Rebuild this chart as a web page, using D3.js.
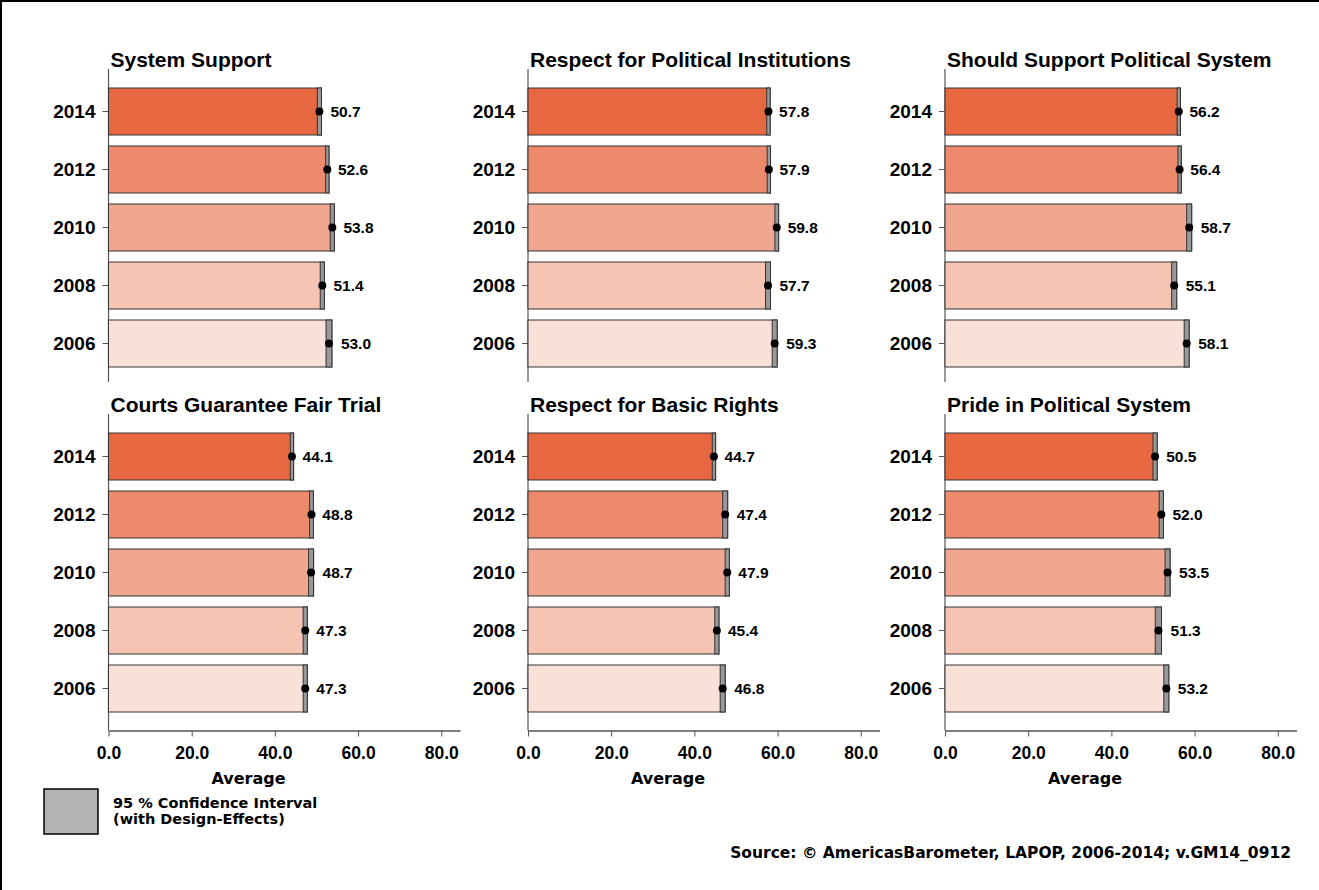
<!DOCTYPE html>
<html>
<head>
<meta charset="utf-8">
<script src="https://cdn.jsdelivr.net/npm/d3@7"></script>
<style>
  html, body { margin: 0; padding: 0; background: #fff; }
  svg { display: block; font-family: "Liberation Sans", Arial, sans-serif; }
</style>
</head>
<body>
<svg id="chart" width="1319" height="890"></svg>
<script>
const years = ["2014", "2012", "2010", "2008", "2006"];
const titles = [
  "System Support", "Respect for Political Institutions", "Should Support Political System",
  "Courts Guarantee Fair Trial", "Respect for Basic Rights", "Pride in Political System"
];
const means = [
  [50.7, 52.6, 53.8, 51.4, 53.0],
  [57.8, 57.9, 59.8, 57.7, 59.3],
  [56.2, 56.4, 58.7, 55.1, 58.1],
  [44.1, 48.8, 48.7, 47.3, 47.3],
  [44.7, 47.4, 47.9, 45.4, 46.8],
  [50.5, 52.0, 53.5, 51.3, 53.2]
];
const ciHalf = [
  [0.5, 0.4, 0.5, 0.5, 0.7],
  [0.4, 0.4, 0.45, 0.6, 0.6],
  [0.4, 0.4, 0.6, 0.6, 0.6],
  [0.4, 0.45, 0.6, 0.5, 0.5],
  [0.4, 0.6, 0.5, 0.5, 0.6],
  [0.5, 0.5, 0.6, 0.75, 0.6]
];
const xTicks = [0, 20, 40, 60, 80];
const yearColors = ["#E66740", "#ED8A6C", "#F1A78F", "#F6C4B3", "#FAE1D8"];
const legendLines = ["95 % Confidence Interval", "(with Design-Effects)"];
const sourceText = "Source: \u00A9 AmericasBarometer, LAPOP, 2006-2014; v.GM14_0912";
const xAxisLabel = "Average";

const wideFont = "DejaVu Sans, Verdana, sans-serif";
const svg = d3.select("#chart");

// outer frame (top and left)
svg.append("line").attr("x1", 1).attr("y1", 0).attr("x2", 1).attr("y2", 890).attr("stroke", "#000").attr("stroke-width", 2);
svg.append("line").attr("x1", 0).attr("y1", 1).attr("x2", 1319).attr("y2", 1).attr("stroke", "#000").attr("stroke-width", 2);

const colX = [108.5, 528, 945];
const rowDefs = [
  { titleY: 67, bandTop: 82.5, axisTop: 69, axisBottom: 382 },
  { titleY: 412, bandTop: 427.5, axisTop: 414, axisBottom: 730.5 }
];

const colorScale = d3.scaleOrdinal().domain(years).range(yearColors);

titles.forEach((title, i) => {
  const col = i % 3, row = Math.floor(i / 3);
  const x0 = colX[col];
  const rd = rowDefs[row];
  const g = svg.append("g");

  const x = d3.scaleLinear().domain([0, 84.5]).range([x0, x0 + 351.5]);
  const y = d3.scaleBand().domain(years)
    .range([rd.bandTop, rd.bandTop + 5 * 58])
    .paddingInner(0.19).paddingOuter(0.095);

  // title
  g.append("text").attr("x", x0 + 2).attr("y", rd.titleY)
    .attr("font-size", 21).attr("font-weight", "bold").attr("fill", "#000")
    .text(title);

  // y axis line
  g.append("line").attr("x1", x0).attr("x2", x0)
    .attr("y1", rd.axisTop).attr("y2", rd.axisBottom)
    .attr("stroke", "#555").attr("stroke-width", 1.2);

  // y ticks and labels
  const yAxis = d3.axisLeft(y).tickSize(6).tickPadding(7);
  const ya = g.append("g").attr("transform", `translate(${x0},0)`).call(yAxis);
  ya.select(".domain").remove();
  ya.selectAll(".tick line").attr("stroke", "#555");
  ya.selectAll(".tick text").attr("font-size", 19).attr("font-weight", "bold")
    .attr("fill", "#000").attr("font-family", "Liberation Sans, Arial, sans-serif");

  const data = years.map((yr, j) => ({
    year: yr, mean: means[i][j], lo: means[i][j] - ciHalf[i][j], hi: means[i][j] + ciHalf[i][j]
  }));

  // bars to upper CI
  g.selectAll(".bar").data(data).enter().append("rect")
    .attr("x", x(0)).attr("y", d => y(d.year))
    .attr("width", d => x(d.hi) - x(0)).attr("height", y.bandwidth())
    .attr("fill", d => colorScale(d.year)).attr("stroke", "#333").attr("stroke-width", 1);

  // CI segments
  g.selectAll(".ci").data(data).enter().append("rect")
    .attr("x", d => x(d.lo)).attr("y", d => y(d.year))
    .attr("width", d => x(d.hi) - x(d.lo)).attr("height", y.bandwidth())
    .attr("fill", "#999").attr("stroke", "#333").attr("stroke-width", 1);

  // mean dots
  g.selectAll(".dot").data(data).enter().append("circle")
    .attr("cx", d => x(d.mean)).attr("cy", d => y(d.year) + y.bandwidth() / 2)
    .attr("r", 4).attr("fill", "#000");

  // value labels
  g.selectAll(".val").data(data).enter().append("text")
    .attr("x", d => x(d.hi) + 9).attr("y", d => y(d.year) + y.bandwidth() / 2)
    .attr("dy", "0.35em").attr("font-size", 15.5).attr("font-weight", "bold").attr("fill", "#000")
    .text(d => d.mean.toFixed(1));

  // x axis on bottom row
  if (row === 1) {
    const xAxis = d3.axisBottom(x).tickValues(xTicks).tickSize(6).tickPadding(10)
      .tickFormat(d3.format(".1f")).tickSizeOuter(0);
    const xa = g.append("g").attr("transform", `translate(0,${rd.axisBottom})`).call(xAxis);
    xa.select(".domain").attr("stroke", "#000").attr("stroke-width", 1.2);
    xa.selectAll(".tick line").attr("stroke", "#555");
    xa.selectAll(".tick text").attr("font-size", 17.5).attr("font-weight", "bold")
      .attr("fill", "#000").attr("font-family", "Liberation Sans, Arial, sans-serif");
    g.append("text").attr("x", x0 + 140).attr("y", 784)
      .attr("text-anchor", "middle").attr("font-size", 16).attr("font-weight", "bold")
      .attr("font-family", wideFont)
      .text(xAxisLabel);
  }
});

// legend
svg.append("rect").attr("x", 44).attr("y", 789).attr("width", 54).attr("height", 45)
  .attr("fill", "#B3B3B3").attr("stroke", "#000").attr("stroke-width", 1.5);
legendLines.forEach((t, k) => {
  svg.append("text").attr("x", 113).attr("y", 808 + k * 15.5)
    .attr("font-size", 14.5).attr("font-weight", "bold").attr("font-family", wideFont).text(t);
});

// source
svg.append("text").attr("x", 1291).attr("y", 858).attr("text-anchor", "end")
  .attr("font-size", 15.5).attr("font-weight", "bold").attr("font-family", wideFont).text(sourceText);
</script>
</body>
</html>
